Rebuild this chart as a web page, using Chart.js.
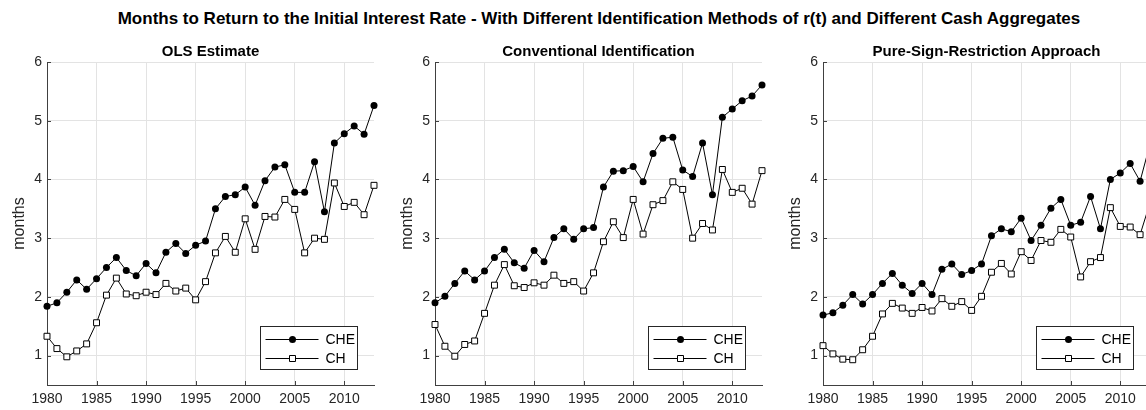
<!DOCTYPE html>
<html>
<head>
<meta charset="utf-8">
<script src="https://cdn.jsdelivr.net/npm/chart.js@4.4.1/dist/chart.umd.min.js"></script>
<style>
  body { margin: 0; width: 1146px; height: 410px; overflow: hidden; background: #fff; position: relative;
         font-family: "Liberation Sans", Arial, sans-serif; }
  .main-title { position: absolute; left: 0; top: 9px; width: 1198px; text-align: center;
                font-weight: bold; font-size: 17px; line-height: 20px; color: #000; white-space: nowrap; }
  .panel { position: absolute; top: 0; width: 388px; height: 410px; }
  .sub-title { position: absolute; left: 47px; top: 42px; width: 327px; text-align: center;
               font-weight: bold; font-size: 15px; line-height: 18px; color: #000; white-space: nowrap; }
</style>
</head>
<body>
<div class="main-title">Months to Return to the Initial Interest Rate - With Different Identification Methods of r(t) and Different Cash Aggregates</div>
<div id="panels"></div>
<script>
const years = [1980, 1981, 1982, 1983, 1984, 1985, 1986, 1987, 1988, 1989, 1990, 1991,
               1992, 1993, 1994, 1995, 1996, 1997, 1998, 1999, 2000, 2001, 2002, 2003,
               2004, 2005, 2006, 2007, 2008, 2009, 2010, 2011, 2012, 2013];
const xTicks = [1980, 1985, 1990, 1995, 2000, 2005, 2010];
const yTicks = [1, 2, 3, 4, 5, 6];
const seriesNames = ["CHE", "CH"];
const panelTitles = ["OLS Estimate", "Conventional Identification", "Pure-Sign-Restriction Approach"];

// OLS estimate
const olsCHE = [1.84, 1.90, 2.08, 2.29, 2.13, 2.31, 2.50, 2.67, 2.45, 2.36, 2.57, 2.41, 2.76, 2.91, 2.74, 2.88, 2.95,
                3.50, 3.71, 3.74, 3.87, 3.56, 3.98, 4.21, 4.25, 3.78, 3.78, 4.30, 3.45, 4.62, 4.78, 4.91, 4.77, 5.26];
const olsCH  = [1.33, 1.12, 0.98, 1.08, 1.20, 1.56, 2.03, 2.32, 2.05, 2.02, 2.08, 2.04, 2.23, 2.10, 2.15, 1.95, 2.26,
                2.75, 3.03, 2.76, 3.33, 2.81, 3.37, 3.36, 3.66, 3.49, 2.75, 3.00, 2.98, 3.94, 3.54, 3.61, 3.40, 3.90];
// conventional identification
const convCHE = [1.90, 2.01, 2.23, 2.44, 2.29, 2.44, 2.67, 2.81, 2.58, 2.49, 2.79, 2.60, 3.01, 3.16, 2.98, 3.16, 3.18,
                 3.87, 4.14, 4.15, 4.22, 3.96, 4.44, 4.70, 4.72, 4.16, 4.05, 4.62, 3.74, 5.06, 5.20, 5.34, 5.42, 5.61];
const convCH  = [1.53, 1.16, 0.99, 1.19, 1.25, 1.72, 2.20, 2.55, 2.19, 2.16, 2.24, 2.20, 2.37, 2.23, 2.26, 2.10, 2.41,
                 2.94, 3.28, 3.01, 3.66, 3.07, 3.57, 3.64, 3.96, 3.83, 3.00, 3.25, 3.14, 4.17, 3.78, 3.85, 3.58, 4.15];
// pure sign restriction
const signCHE = [1.69, 1.73, 1.86, 2.04, 1.88, 2.04, 2.23, 2.40, 2.20, 2.06, 2.23, 2.04, 2.47, 2.56, 2.38, 2.45, 2.56,
                 3.04, 3.16, 3.11, 3.34, 2.96, 3.22, 3.51, 3.66, 3.22, 3.27, 3.71, 3.16, 4.00, 4.11, 4.27, 3.97, 4.60];
const signCH  = [1.17, 1.03, 0.94, 0.93, 1.10, 1.33, 1.71, 1.89, 1.81, 1.72, 1.82, 1.76, 1.97, 1.84, 1.92, 1.77, 2.01,
                 2.42, 2.57, 2.39, 2.77, 2.62, 2.96, 2.93, 3.15, 3.02, 2.34, 2.60, 2.67, 3.52, 3.20, 3.19, 3.06, 3.60];

const panelData = [[olsCHE, olsCH], [convCHE, convCH], [signCHE, signCH]];

const FONT = "'Liberation Sans', Arial, sans-serif";
const AXIS_COLOR = "#404040";

function toPoints(values) {
    return values.map((v, i) => ({ x: years[i], y: v }));
}

// small inward ticks like matlab
const innerTicks = {
    id: "innerTicks",
    afterDraw(chart) {
        const ctx = chart.ctx;
        const area = chart.chartArea;
        const xs = chart.scales.x, ys = chart.scales.y;
        ctx.save();
        ctx.strokeStyle = AXIS_COLOR;
        ctx.lineWidth = 1;
        ctx.beginPath();
        xTicks.forEach(t => {
            const px = Math.round(xs.getPixelForValue(t)) + 0.5;
            ctx.moveTo(px, area.bottom);
            ctx.lineTo(px, area.bottom - 4);
        });
        yTicks.forEach(t => {
            const py = Math.round(ys.getPixelForValue(t)) + 0.5;
            ctx.moveTo(area.left, py);
            ctx.lineTo(area.left + 4, py);
        });
        ctx.stroke();
        ctx.restore();
    }
};

function drawMarker(ctx, style, x, y) {
    ctx.beginPath();
    if (style === "circle") {
        ctx.arc(x, y, 3.5, 0, Math.PI * 2);
        ctx.fillStyle = "#000";
        ctx.fill();
    } else {
        ctx.rect(x - 3, y - 3, 6, 6);
        ctx.fillStyle = "#fff";
        ctx.fill();
        ctx.strokeStyle = "#000";
        ctx.stroke();
    }
}

// matlab style legend box in the lower right corner
const boxLegend = {
    id: "boxLegend",
    afterDraw(chart) {
        const ctx = chart.ctx;
        const area = chart.chartArea;
        const w = 97, h = 43;
        const left = Math.round(area.right - 17 - w) + 0.5;
        const top = Math.round(area.bottom - 16 - h) + 0.5;
        ctx.save();
        ctx.fillStyle = "#fff";
        ctx.fillRect(left, top, w, h);
        ctx.strokeStyle = "#262626";
        ctx.lineWidth = 1;
        ctx.strokeRect(left, top, w, h);
        chart.data.datasets.forEach((ds, i) => {
            const y = top + 13 + i * 19;
            ctx.beginPath();
            ctx.strokeStyle = "#000";
            ctx.moveTo(left + 5, y);
            ctx.lineTo(left + 58, y);
            ctx.stroke();
            drawMarker(ctx, ds.pointStyle, left + 32, y);
            ctx.fillStyle = "#000";
            ctx.font = "14px " + FONT;
            ctx.textBaseline = "middle";
            ctx.textAlign = "left";
            ctx.fillText(ds.label, left + 65, y + 1);
        });
        ctx.restore();
    }
};

function makePanel(idx) {
    const holder = document.createElement("div");
    holder.className = "panel";
    holder.style.left = (idx * 388) + "px";
    const title = document.createElement("div");
    title.className = "sub-title";
    title.innerText = panelTitles[idx];
    const canvas = document.createElement("canvas");
    canvas.width = 388;
    canvas.height = 410;
    holder.appendChild(canvas);
    holder.appendChild(title);
    document.getElementById("panels").appendChild(holder);

    const [che, ch] = panelData[idx];

    return new Chart(canvas.getContext("2d"), {
        type: "line",
        data: {
            datasets: [{
                label: seriesNames[0],
                data: toPoints(che),
                borderColor: "#000",
                borderWidth: 1,
                pointStyle: "circle",
                pointRadius: 3.5,
                pointBackgroundColor: "#000",
                pointBorderColor: "#000",
                pointBorderWidth: 0,
                tension: 0,
                clip: false
            }, {
                label: seriesNames[1],
                data: toPoints(ch),
                borderColor: "#000",
                borderWidth: 1,
                pointStyle: "rect",
                pointRadius: 4.2,
                pointBackgroundColor: "#fff",
                pointBorderColor: "#000",
                pointBorderWidth: 1,
                tension: 0,
                clip: false
            }]
        },
        options: {
            responsive: false,
            animation: false,
            events: [],
            layout: { padding: { top: 62, right: 14, bottom: 0, left: 0 } },
            plugins: { legend: { display: false }, tooltip: { enabled: false } },
            scales: {
                x: {
                    type: "linear",
                    min: 1980,
                    max: 2013,
                    afterBuildTicks: s => { s.ticks = xTicks.map(v => ({ value: v })); },
                    afterFit: s => { s.height = 25; },
                    grid: { color: "#e3e3e3", drawTicks: false },
                    border: { color: AXIS_COLOR, width: 1 },
                    ticks: {
                        padding: 6,
                        color: "#262626",
                        font: { family: FONT, size: 14 },
                        maxRotation: 0,
                        callback: v => String(v)
                    }
                },
                y: {
                    min: 0.5,
                    max: 6,
                    afterBuildTicks: s => { s.ticks = yTicks.map(v => ({ value: v })); },
                    afterFit: s => { s.width = 47; },
                    grid: { color: "#e3e3e3", drawTicks: false },
                    border: { color: AXIS_COLOR, width: 1 },
                    ticks: {
                        padding: 5,
                        color: "#262626",
                        font: { family: FONT, size: 14 },
                        callback: v => String(v)
                    },
                    title: {
                        display: true,
                        text: "months",
                        color: "#262626",
                        font: { family: FONT, size: 16 },
                        padding: { top: 10, bottom: 0 }
                    }
                }
            }
        },
        plugins: [innerTicks, boxLegend]
    });
}

for (let i = 0; i < 3; i++) {
    makePanel(i);
}
</script>
</body>
</html>
